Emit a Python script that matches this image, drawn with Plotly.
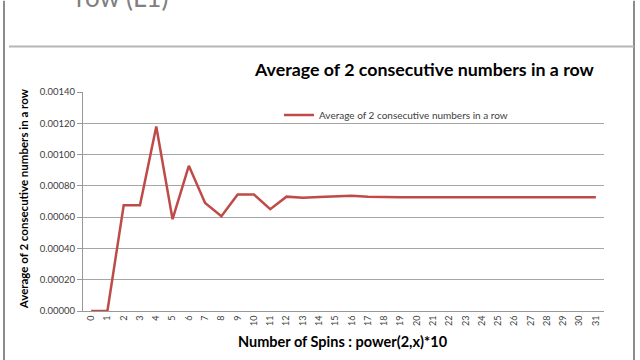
import plotly.graph_objects as go

# ---- data ----
spins = list(range(32))
tick_labels = [str(i) for i in spins]
avg_values = [0.0, 0.0, 0.000676, 0.000676, 0.00118, 0.000587, 0.000928, 0.000691,
              0.000606, 0.000745, 0.000745, 0.000651, 0.000731, 0.000724, 0.000728,
              0.000732, 0.000737, 0.000730, 0.000727, 0.000727, 0.000727, 0.000727,
              0.000727, 0.000727, 0.000727, 0.000727, 0.000727, 0.000727, 0.000727,
              0.000727, 0.000727, 0.000727]
y_ticks = [0.0, 0.0002, 0.0004, 0.0006, 0.0008, 0.0010, 0.0012, 0.0014]
y_tick_labels = ["0.00000", "0.00020", "0.00040", "0.00060", "0.00080",
                 "0.00100", "0.00120", "0.00140"]
series_name = "Average of 2 consecutive numbers in a row"

W, H = 640, 360
L, R, T, B = 83, 604, 91.5, 311

def px(x):
    return (x - L) / (R - L)

def py(y):
    return (B - y) / (B - T)

FONT = "Lato"

fig = go.Figure()
fig.add_trace(go.Scatter(
    x=spins, y=avg_values, mode="lines", name=series_name,
    line=dict(color="#BE4B48", width=2.5),
))

fig.update_layout(
    width=W, height=H,
    margin=dict(l=L, r=W - R, t=T, b=H - B, pad=0),
    paper_bgcolor="white", plot_bgcolor="white",
    font=dict(family=FONT, color="#404040"),
    showlegend=True,
    legend=dict(x=px(279), y=py(100), xanchor="left", yanchor="top",
                bgcolor="rgba(0,0,0,0)", font=dict(size=10, color="#404040"),
                itemwidth=30, tracegroupgap=0),
    xaxis=dict(range=[-0.5, 31.5], tickmode="array", tickvals=spins,
               ticktext=tick_labels, tickangle=-90, showgrid=False,
               showline=True, linecolor="#999999", linewidth=1,
               ticks="", tickfont=dict(size=9, color="#404040"), zeroline=False),
    yaxis=dict(range=[0, 0.0014], tickmode="array", tickvals=y_ticks,
               ticktext=y_tick_labels, showgrid=True, gridcolor="#A6A6A6",
               gridwidth=1, showline=True, linecolor="#999999", linewidth=1,
               ticks="outside", ticklen=5, tickcolor="#999999",
               tickfont=dict(size=9.5, color="#404040"), zeroline=False),
)

annotations = [
    dict(text="<b>Average of 2 consecutive numbers in a row</b>", x=px(424), y=py(68),
         xref="paper", yref="paper", showarrow=False, xanchor="center", yanchor="middle",
         font=dict(size=17.8, family=FONT, color="#000000")),
    dict(text="<b>Average of 2 consecutive numbers in a row</b>", x=px(23), y=py(199),
         xref="paper", yref="paper", showarrow=False, xanchor="center", yanchor="middle",
         textangle=-90, font=dict(size=11.5, family=FONT, color="#000000")),
    dict(text="<b>Number of Spins : power(2,x)*10</b>", x=px(343), y=py(342),
         xref="paper", yref="paper", showarrow=False, xanchor="center", yanchor="middle",
         font=dict(size=14.5, family=FONT, color="#000000")),
    dict(text="row (L1)", x=px(74), y=py(14), xref="paper", yref="paper",
         showarrow=False, xanchor="left", yanchor="bottom",
         font=dict(size=26, family=FONT, color="#808080")),
]
fig.update_layout(annotations=annotations)

shapes = [
    dict(type="line", xref="paper", yref="paper", x0=px(4), x1=px(4), y0=py(0), y1=py(360),
         line=dict(color="#8C8C8C", width=2)),
    dict(type="line", xref="paper", yref="paper", x0=px(634), x1=px(634), y0=py(0), y1=py(360),
         line=dict(color="#8C8C8C", width=2)),
    dict(type="line", xref="paper", yref="paper", x0=px(9), x1=px(634), y0=py(46), y1=py(46),
         line=dict(color="#B5B5B5", width=2)),
]
fig.update_layout(shapes=shapes)

fig.write_html("out.html", config={"displayModeBar": False},
               post_script="document.body.style.margin='0';document.body.style.overflow='hidden';")
